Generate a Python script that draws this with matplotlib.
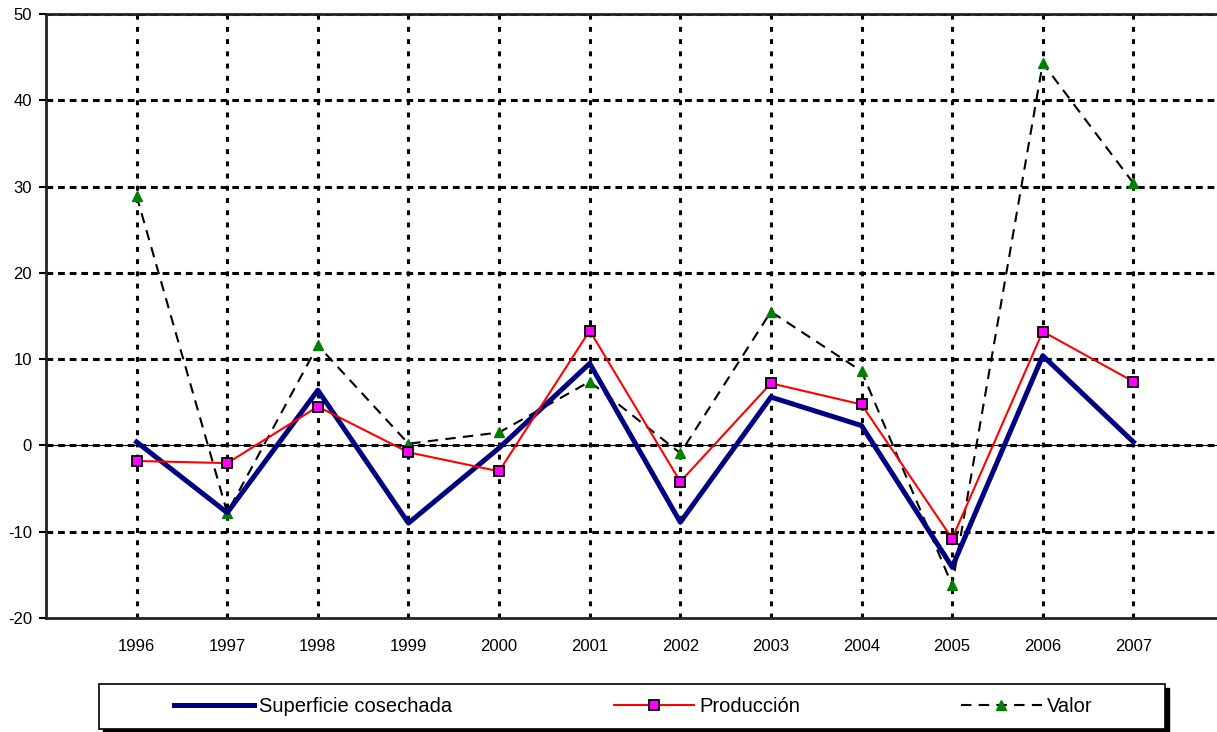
import numpy as np
import matplotlib.pyplot as plt
from matplotlib.patches import Rectangle

plt.rcParams['font.family'] = ['Liberation Sans', 'DejaVu Sans']
plt.rcParams['axes.unicode_minus'] = False

# Data
years = ['1996', '1997', '1998', '1999', '2000', '2001', '2002', '2003', '2004', '2005', '2006', '2007']
superficie = [0.4, -7.8, 6.4, -9.0, -0.3, 9.5, -8.9, 5.6, 2.3, -14.1, 10.4, 0.4]
produccion = [-1.8, -2.05, 4.5, -0.8, -3.0, 13.3, -4.2, 7.2, 4.75, -10.8, 13.2, 7.4]
valor = [28.9, -7.8, 11.6, 0.2, 1.5, 7.4, -0.9, 15.5, 8.6, -16.2, 44.3, 30.4]

x = np.arange(len(years))

W, H = 1217, 732
fig = plt.figure(figsize=(W / 100, H / 100), dpi=100)
# right edge of the plot area runs just off the picture
ax = fig.add_axes([46 / W, 1 - 618 / H, 1178 / W, 604 / H])

# grid
for xi in x:
    ax.axvline(xi, color='black', lw=2.2, dashes=(1.6, 2.4), zorder=1)
for yv in range(-10, 51, 10):
    ax.axhline(yv, color='black', lw=2.2, dashes=(2.2, 1.6), zorder=1)
ax.axhline(0, color='black', lw=0.8, zorder=1.5)

ax.plot(x, superficie, color='#000080', lw=3.6, label='Superficie cosechada', zorder=3)
ax.plot(x, produccion, color='red', lw=1.5, marker='s', markersize=7,
        markerfacecolor='magenta', markeredgecolor='black', markeredgewidth=1.3,
        label='Producción', zorder=4)
ax.plot(x, valor, color='black', lw=1.5, dashes=(5, 3.5), marker='^', markersize=7.5,
        markerfacecolor='green', markeredgecolor='green', label='Valor', zorder=2)

ax.set_xlim(-1, 12)
ax.set_ylim(-20, 50)
ax.set_yticks(range(-20, 51, 10))
ax.set_xticks(x)
ax.set_xticklabels(years)
ax.tick_params(axis='x', length=0, pad=15, labelsize=12)
ax.tick_params(axis='y', length=5, width=1.5, direction='out', labelsize=12, pad=5)

for side in ['left', 'bottom', 'top']:
    ax.spines[side].set_linewidth(2)
    ax.spines[side].set_color('#222222')
ax.spines['right'].set_visible(False)

# legend box with shadow, drawn by hand
bx, by, bw, bh = 99 / W, 1 - 729 / H, 1066 / W, 45 / H
fig.patches.append(Rectangle((bx + 4 / W, by - 4 / H), bw, bh, transform=fig.transFigure,
                             facecolor='black', edgecolor='black', zorder=0))
fig.patches.append(Rectangle((bx, by), bw, bh, transform=fig.transFigure,
                             facecolor='white', edgecolor='black', lw=1.2, zorder=1))

fig.legend(loc='center', ncol=3, bbox_to_anchor=(bx + bw / 2 + 1 / W, by + bh / 2),
           fontsize=14.5, handlelength=4.0, handletextpad=0.25, columnspacing=8.0,
           frameon=False)

plt.savefig('out.png', dpi=100)
